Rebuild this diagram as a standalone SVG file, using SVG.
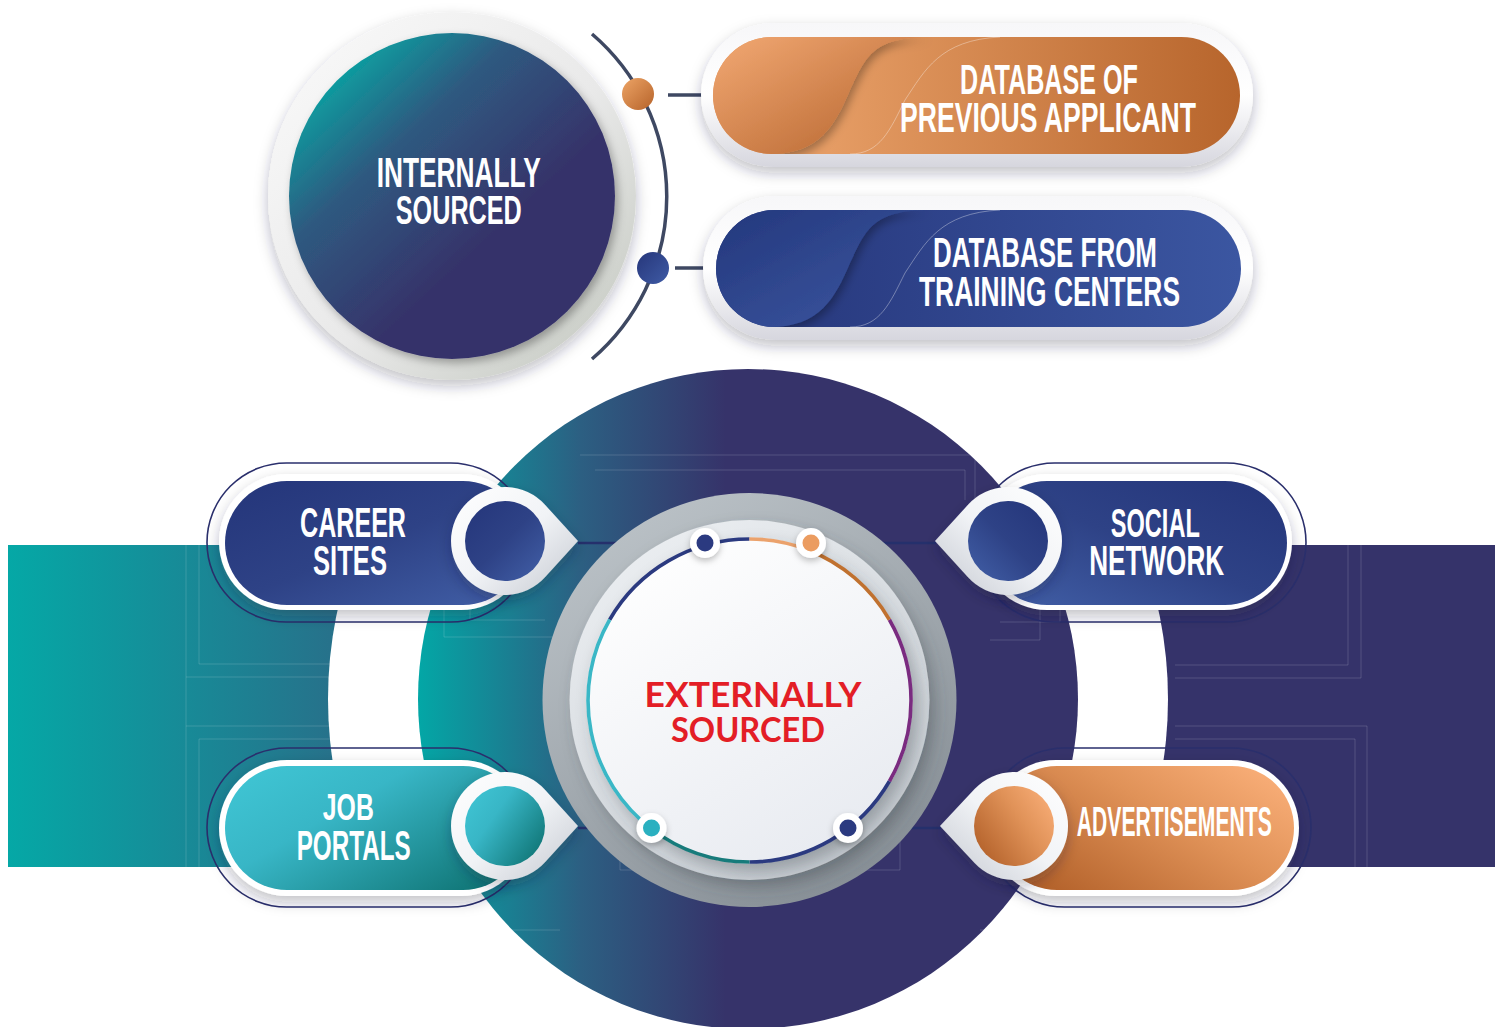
<svg xmlns="http://www.w3.org/2000/svg" width="1503" height="1027" viewBox="0 0 1503 1027">
<style>
.lbl{font-family:'Liberation Sans',Arial,sans-serif;font-weight:700;fill:#ffffff;font-size:42px;text-anchor:middle}
.ext{font-family:Lato,'Liberation Sans',sans-serif;font-weight:700;fill:#e31e26;font-size:34px;text-anchor:middle}
.outline{fill:none;stroke:#2a2f6c;stroke-width:1.6}
.circuit{fill:none;stroke:#ffffff;stroke-opacity:0.15;stroke-width:1}
.conn{stroke:#25306c;stroke-width:2.5;fill:none}
.tconn{stroke:#3e4862;stroke-width:3.5;fill:none}
</style>
<defs>
<filter id="sh" x="-20%" y="-20%" width="140%" height="160%"><feDropShadow dx="0" dy="6" stdDeviation="7" flood-color="#1a1f3a" flood-opacity="0.28"/></filter>
<filter id="shs" x="-30%" y="-30%" width="160%" height="160%"><feDropShadow dx="3" dy="4" stdDeviation="4" flood-color="#000" flood-opacity="0.3"/></filter>
<filter id="shc" x="-20%" y="-20%" width="140%" height="140%"><feDropShadow dx="6" dy="8" stdDeviation="8" flood-color="#3a4048" flood-opacity="0.35"/></filter>
<filter id="shd" x="-60%" y="-60%" width="220%" height="220%"><feDropShadow dx="0" dy="3" stdDeviation="3" flood-color="#000" flood-opacity="0.25"/></filter>
<linearGradient id="gBand" gradientUnits="userSpaceOnUse" x1="8" y1="0" x2="1495" y2="0">
<stop offset="0" stop-color="#05a8a6"/><stop offset="0.24" stop-color="#2a6c88"/><stop offset="0.45" stop-color="#35336a"/><stop offset="1" stop-color="#35336a"/></linearGradient>
<linearGradient id="gBig" gradientUnits="userSpaceOnUse" x1="418" y1="0" x2="780" y2="0">
<stop offset="0" stop-color="#03a7a6"/><stop offset="0.45" stop-color="#2c5f82"/><stop offset="0.85" stop-color="#36336a"/></linearGradient>
<linearGradient id="gInt" x1="0.12" y1="0.08" x2="0.62" y2="0.62">
<stop offset="0" stop-color="#07aaa6"/><stop offset="0.45" stop-color="#2e5a80"/><stop offset="1" stop-color="#36336a"/></linearGradient>
<linearGradient id="gRing" x1="0" y1="0" x2="1" y2="1">
<stop offset="0" stop-color="#fbfbfb"/><stop offset="0.55" stop-color="#e9e9e9"/><stop offset="1" stop-color="#c0c5bc"/></linearGradient>
<linearGradient id="gPillOut" x1="0" y1="0" x2="0" y2="1">
<stop offset="0" stop-color="#f7f7f9"/><stop offset="0.5" stop-color="#ffffff"/><stop offset="1" stop-color="#d6d6de"/></linearGradient>
<linearGradient id="gOrL" x1="0" y1="0" x2="1" y2="1">
<stop offset="0" stop-color="#f6ad78"/><stop offset="1" stop-color="#b05e27"/></linearGradient>
<linearGradient id="gOrR" gradientUnits="userSpaceOnUse" x1="830" y1="0" x2="1240" y2="0">
<stop offset="0" stop-color="#e59c64"/><stop offset="1" stop-color="#b7652c"/></linearGradient>
<linearGradient id="gNvL" x1="0" y1="0" x2="1" y2="1">
<stop offset="0" stop-color="#22357a"/><stop offset="1" stop-color="#3e5aa4"/></linearGradient>
<linearGradient id="gNvR" gradientUnits="userSpaceOnUse" x1="830" y1="0" x2="1240" y2="0">
<stop offset="0" stop-color="#2a3c82"/><stop offset="1" stop-color="#3b56a1"/></linearGradient>
<linearGradient id="gCareer" x1="0" y1="0" x2="1" y2="1">
<stop offset="0" stop-color="#24357a"/><stop offset="0.5" stop-color="#2e4286"/><stop offset="1" stop-color="#4260a8"/></linearGradient>
<linearGradient id="gSocial" x1="1" y1="0" x2="0" y2="1">
<stop offset="0" stop-color="#24357a"/><stop offset="0.5" stop-color="#2e4286"/><stop offset="1" stop-color="#4260a8"/></linearGradient>
<linearGradient id="gJob" x1="0" y1="0.15" x2="1" y2="0.85">
<stop offset="0" stop-color="#3fc4d3"/><stop offset="0.35" stop-color="#38b6c6"/><stop offset="1" stop-color="#0e7272"/></linearGradient>
<linearGradient id="gAdv" x1="1" y1="0.15" x2="0" y2="0.85">
<stop offset="0" stop-color="#f9ae78"/><stop offset="0.4" stop-color="#e09258"/><stop offset="1" stop-color="#b05e27"/></linearGradient>
<linearGradient id="gDrop" x1="0" y1="0" x2="1" y2="1">
<stop offset="0" stop-color="#ffffff"/><stop offset="0.5" stop-color="#f1f3f6"/><stop offset="1" stop-color="#c4c8d0"/></linearGradient>
<linearGradient id="gDropR" x1="1" y1="0" x2="0" y2="1">
<stop offset="0" stop-color="#ffffff"/><stop offset="0.5" stop-color="#f1f3f6"/><stop offset="1" stop-color="#c4c8d0"/></linearGradient>
<linearGradient id="gCOut" x1="0.2" y1="0" x2="0.8" y2="1">
<stop offset="0" stop-color="#bcc3c8"/><stop offset="1" stop-color="#858d94"/></linearGradient>
<linearGradient id="gCMid" x1="0.2" y1="0" x2="0.8" y2="1">
<stop offset="0" stop-color="#eceff2"/><stop offset="1" stop-color="#c3c9cf"/></linearGradient>
<linearGradient id="gCIn" x1="0.2" y1="0" x2="0.8" y2="1">
<stop offset="0" stop-color="#ffffff"/><stop offset="1" stop-color="#e7eaf0"/></linearGradient>
<linearGradient id="gDotOr" x1="0" y1="0" x2="1" y2="1"><stop offset="0" stop-color="#eda466"/><stop offset="1" stop-color="#b6632a"/></linearGradient>
<linearGradient id="gDotNv" x1="0" y1="0" x2="1" y2="1"><stop offset="0" stop-color="#26367a"/><stop offset="1" stop-color="#3f5ba5"/></linearGradient>
<clipPath id="cp1"><rect x="713" y="37" width="527" height="117" rx="58.5"/></clipPath>
<clipPath id="cp2"><rect x="716" y="210" width="525" height="117" rx="58.5"/></clipPath>
</defs>

<rect width="1503" height="1027" fill="#ffffff"/>

<g id="background">
<rect x="8" y="545" width="1487" height="322" fill="url(#gBand)"/>
<circle cx="748" cy="699" r="420" fill="#ffffff"/>
<circle cx="748" cy="699" r="330" fill="url(#gBig)"/>
<g class="circuit">
<path d="M186 545V867M199 545V664H330M186 677H330M186 726H330M199 739H330M199 739V867"/>
<path d="M1348 545V665H1175M1361 545V678H1175M1367 867V726H1175M1355 867V739H1175"/>
<path d="M444 482V637H560M470 500V620H545M580 455H975V500M595 470H965V500"/>
<path d="M1040 480V640H990M1060 500V622H1000M445 770V930H560M1040 760V930H980"/>
<path d="M680 560V600H770V560M790 560V600H880V560M620 800V870H720V800M810 800V870H900V800"/>
</g>
</g>

<g id="connectors">
<path class="tconn" d="M592 34 A214 214 0 0 1 592 359"/>
<line class="tconn" x1="668" y1="95" x2="728" y2="95"/>
<line class="tconn" x1="675" y1="268" x2="736" y2="268"/>
<line class="conn" x1="578" y1="543" x2="705" y2="543"/>
<line class="conn" x1="811" y1="543" x2="936" y2="543"/>
<line class="conn" x1="578" y1="828" x2="651" y2="828"/>
<line class="conn" x1="848" y1="828" x2="941" y2="828"/>
</g>

<g id="internally-sourced">
<circle cx="452" cy="196" r="184" fill="url(#gRing)" filter="url(#sh)"/>
<circle cx="452" cy="196" r="163" fill="url(#gInt)" filter="url(#shs)"/>
<text class="lbl"><tspan x="458.7" y="186.5" font-size="43" textLength="164" lengthAdjust="spacingAndGlyphs">INTERNALLY</tspan><tspan x="458.8" y="224" font-size="41" textLength="126" lengthAdjust="spacingAndGlyphs">SOURCED</tspan></text>
<circle cx="638" cy="94" r="16" fill="url(#gDotOr)"/>
<circle cx="653" cy="268" r="16" fill="url(#gDotNv)"/>
</g>

<g id="database-previous-applicant">
<rect x="701" y="23" width="552" height="144" rx="72" fill="url(#gPillOut)" filter="url(#sh)"/>
<rect x="713" y="37" width="527" height="117" rx="58.5" fill="url(#gOrR)"/>
<g clip-path="url(#cp1)">
<path d="M700 30 L930 37 C870 37 865 60 850 90 C835 125 820 154 770 154 L700 160 Z" fill="url(#gOrL)" filter="url(#shs)"/>
<path d="M1000 37 C940 40 925 70 905 100 C890 130 880 154 850 154" fill="none" stroke="#ffffff" stroke-opacity="0.35" stroke-width="1"/>
</g>
<text class="lbl" font-size="39"><tspan x="1049" y="94" textLength="178" lengthAdjust="spacingAndGlyphs">DATABASE OF</tspan><tspan x="1048" y="132" textLength="296" lengthAdjust="spacingAndGlyphs">PREVIOUS APPLICANT</tspan></text>
</g>

<g id="database-training-centers">
<rect x="703" y="196" width="550" height="144" rx="72" fill="url(#gPillOut)" filter="url(#sh)"/>
<rect x="716" y="210" width="525" height="117" rx="58.5" fill="url(#gNvR)"/>
<g clip-path="url(#cp2)">
<path d="M700 203 L930 210 C870 210 865 233 850 263 C835 298 820 327 770 327 L700 333 Z" fill="url(#gNvL)" filter="url(#shs)"/>
<path d="M1000 210 C940 213 925 243 905 273 C890 303 880 327 850 327" fill="none" stroke="#ffffff" stroke-opacity="0.35" stroke-width="1"/>
</g>
<text class="lbl" font-size="40"><tspan x="1045" y="267" textLength="224" lengthAdjust="spacingAndGlyphs">DATABASE FROM</tspan><tspan x="1049.5" y="305.5" textLength="261" lengthAdjust="spacingAndGlyphs">TRAINING CENTERS</tspan></text>
</g>

<g id="externally-sourced">
<circle cx="749.5" cy="700" r="207" fill="url(#gCOut)"/>
<circle cx="749.5" cy="700" r="180" fill="url(#gCMid)" filter="url(#shc)"/>
<circle cx="749.5" cy="700.5" r="163" fill="url(#gCIn)" filter="url(#shc)"/>
<g fill="none" stroke-width="3.6">
<path d="M609.64 619.75 A161.5 161.5 0 0 1 749.5 539" stroke="#2b3a80"/>
<path d="M749.5 539 A161.5 161.5 0 0 1 807.4 549.7" stroke="#eba26c"/>
<path d="M807.4 549.7 A161.5 161.5 0 0 1 889.4 619.75" stroke="#c0712f"/>
<path d="M889.4 619.75 A161.5 161.5 0 0 1 889.4 781.25" stroke="#7a2b80"/>
<path d="M889.4 781.25 A161.5 161.5 0 0 1 749.5 862" stroke="#2b3a80"/>
<path d="M749.5 862 A161.5 161.5 0 0 1 651.2 828.6" stroke="#177b7b"/>
<path d="M651.2 828.6 A161.5 161.5 0 0 1 609.64 619.75" stroke="#3ab7c6"/>
</g>
<circle cx="705" cy="543" r="15" fill="#ffffff" filter="url(#shd)"/>
<circle cx="705" cy="543" r="8.5" fill="#2b3a80"/>
<circle cx="811" cy="543" r="15" fill="#ffffff" filter="url(#shd)"/>
<circle cx="811" cy="543" r="8.5" fill="#eb9c60"/>
<circle cx="651.5" cy="828" r="15" fill="#ffffff" filter="url(#shd)"/>
<circle cx="651.5" cy="828" r="8.5" fill="#2ab0c0"/>
<circle cx="848" cy="828" r="15" fill="#ffffff" filter="url(#shd)"/>
<circle cx="848" cy="828" r="8.5" fill="#2b3a80"/>
<text class="ext"><tspan x="753" y="707" textLength="217" lengthAdjust="spacingAndGlyphs">EXTERNALLY</tspan><tspan x="748" y="742" textLength="154" lengthAdjust="spacingAndGlyphs">SOURCED</tspan></text>
</g>

<g id="career-sites">
<rect class="outline" x="207" y="463" width="323" height="159" rx="79.5"/>
<rect x="219" y="474" width="310" height="136" rx="68" fill="#ffffff" filter="url(#sh)"/>
<rect x="225" y="481" width="300" height="124" rx="62" fill="url(#gCareer)"/>
<path d="M545 504.7 L578 541 L545 577.3 A54 54 0 1 1 545 504.7 Z" fill="url(#gDrop)" filter="url(#sh)"/>
<circle cx="505" cy="541" r="40" fill="url(#gCareer)"/>
<text class="lbl"><tspan x="353" y="537" textLength="106" lengthAdjust="spacingAndGlyphs">CAREER</tspan><tspan x="350" y="575" textLength="74" lengthAdjust="spacingAndGlyphs">SITES</tspan></text>
</g>

<g id="job-portals">
<rect class="outline" x="207" y="748" width="323" height="159" rx="79.5"/>
<rect x="219" y="760" width="310" height="136" rx="68" fill="#ffffff" filter="url(#sh)"/>
<rect x="225" y="766" width="300" height="124" rx="62" fill="url(#gJob)"/>
<path d="M545 789.7 L578 826 L545 862.3 A54 54 0 1 1 545 789.7 Z" fill="url(#gDrop)" filter="url(#sh)"/>
<circle cx="505" cy="826" r="40" fill="url(#gJob)"/>
<text class="lbl"><tspan x="348.3" y="820" font-size="37" textLength="51" lengthAdjust="spacingAndGlyphs">JOB</tspan><tspan x="353.7" y="860" textLength="114" lengthAdjust="spacingAndGlyphs">PORTALS</tspan></text>
</g>

<g id="social-network">
<rect class="outline" x="975" y="463" width="331" height="159" rx="79.5"/>
<rect x="979" y="474" width="313" height="136" rx="68" fill="#ffffff" filter="url(#sh)"/>
<rect x="985" y="481" width="302" height="124" rx="62" fill="url(#gSocial)"/>
<path d="M968 504.7 L935 541 L968 577.3 A54 54 0 1 0 968 504.7 Z" fill="url(#gDropR)" filter="url(#sh)"/>
<circle cx="1008" cy="541" r="40" fill="url(#gSocial)"/>
<text class="lbl"><tspan x="1155.3" y="537" font-size="40" textLength="89" lengthAdjust="spacingAndGlyphs">SOCIAL</tspan><tspan x="1156.7" y="575" textLength="135" lengthAdjust="spacingAndGlyphs">NETWORK</tspan></text>
</g>

<g id="advertisements">
<rect class="outline" x="985" y="748" width="326" height="159" rx="79.5"/>
<rect x="988" y="760" width="311" height="136" rx="68" fill="#ffffff" filter="url(#sh)"/>
<rect x="995" y="766" width="299" height="124" rx="62" fill="url(#gAdv)"/>
<path d="M974.6 789.1 L940 826 L974.6 862.9 A54 54 0 1 0 974.6 789.1 Z" fill="url(#gDropR)" filter="url(#sh)"/>
<circle cx="1014" cy="826" r="40" fill="url(#gAdv)"/>
<text class="lbl" x="1174.3" y="836" font-size="30" textLength="195" lengthAdjust="spacingAndGlyphs">ADVERTISEMENTS</text>
</g>
</svg>
